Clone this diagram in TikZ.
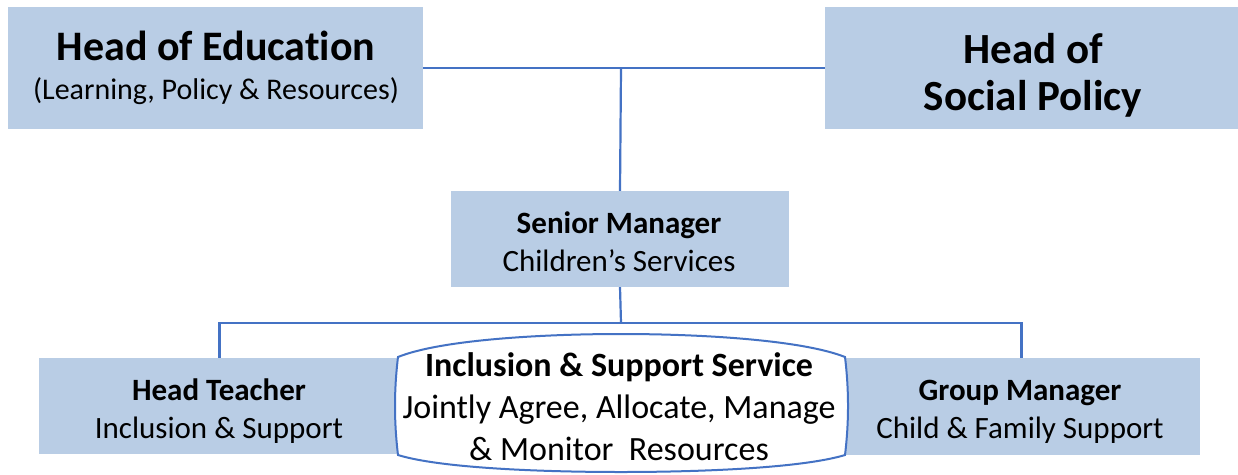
\documentclass[tikz,border=0pt]{standalone}
\usepackage{fontspec}
\setmainfont{Carlito}[Ligatures=NoCommon]
\definecolor{boxfill}{HTML}{B9CDE5}
\definecolor{linkblue}{HTML}{4472C4}
\begin{document}
\begin{tikzpicture}[x=1pt,y=-1pt,
  box/.style={fill=boxfill, draw=none, inner sep=0pt},
  txt/.style={inner sep=0pt, align=center, text=black, anchor=base},
  link/.style={draw=linkblue, line width=2.2pt},
  oval/.style={draw=linkblue, line width=2pt, fill=white}]
\useasboundingbox[fill=white] (0,0) rectangle (1238,474);

% top level
\node[box, minimum width=415pt, minimum height=122pt] (edu) at (215.5,68) {};
\node[txt, font=\fontsize{30}{39}\selectfont] (edutext) at (216,99)
  {{\fontsize{42}{39}\selectfont\bfseries Head of Education}\\(Learning, Policy \& Resources)};
\node[box, minimum width=413pt, minimum height=122pt] (soc) at (1031.5,68) {};
\node[txt, font=\fontsize{43}{47}\selectfont\bfseries] (soctext) at (1033,110)
  {Head of\\Social Policy};

% middle level
\node[box, minimum width=338pt, minimum height=96pt] (sen) at (620,239) {};
\node[txt, font=\fontsize{31}{38}\selectfont] (sentext) at (619,271)
  {\textbf{Senior Manager}\\Children’s Services};

% bottom level
\node[box, minimum width=361pt, minimum height=96pt] (ht) at (219.5,406) {};
\node[txt, font=\fontsize{31}{38}\selectfont] (httext) at (219,438)
  {\textbf{Head Teacher}\\Inclusion \& Support};
\node[box, minimum width=357pt, minimum height=97pt] (gm) at (1021.5,406.5) {};
\node[txt, font=\fontsize{31}{38}\selectfont] (gmtext) at (1020,438)
  {\textbf{Group Manager}\\Child \& Family Support};

% oval service outline
\draw[oval] (398,357) .. controls (440,340) and (540,334) .. (621,334)
  .. controls (702,334) and (802,340) .. (845,357)
  .. controls (849,390) and (849,422) .. (845,455)
  .. controls (802,468) and (702,472) .. (621,472)
  .. controls (540,472) and (440,468) .. (398,455)
  .. controls (394,422) and (394,390) .. cycle;
\node[txt, font=\fontsize{34}{42}\selectfont] (iss) at (619,460)
  {\textbf{Inclusion \& Support Service}\\Jointly Agree, Allocate, Manage\\\& Monitor\ \ Resources};

% connectors
\coordinate (top) at (621,68);
\coordinate (mid) at (621,323);
\draw[link] (edu.east) -- (soc.west);
\draw[link] (top) -- (sen.north);
\draw[link] (sen.south) -- (mid);
\draw[link] (ht.north) |- (mid) -| (gm.north);
\end{tikzpicture}
\end{document}
